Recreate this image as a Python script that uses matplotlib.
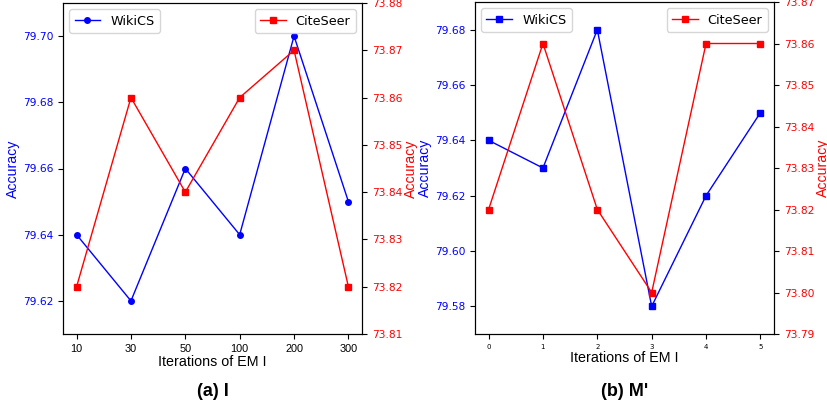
import matplotlib
matplotlib.use("Agg")
import matplotlib.pyplot as plt

# Data
labels_a = ["10", "30", "50", "100", "200", "300"]
wiki_a = [79.64, 79.62, 79.66, 79.64, 79.70, 79.65]
cite_a = [73.82, 73.86, 73.84, 73.86, 73.87, 73.82]

labels_b = ["0", "1", "2", "3", "4", "5"]
wiki_b = [79.64, 79.63, 79.68, 79.58, 79.62, 79.65]
cite_b = [73.82, 73.86, 73.82, 73.80, 73.86, 73.86]

W, H = 828, 408
fig = plt.figure(figsize=(W / 100, H / 100), dpi=100)
ARIAL = "Liberation Sans"

def px(x0, y0, x1, y1):
    return [x0 / W, 1 - y1 / H, (x1 - x0) / W, (y1 - y0) / H]

def panel(rect, labels, wiki, cite, wm, ylim1, yt1, ylim2, yt2, xfs, xfam, title, tx):
    ax = fig.add_axes(rect)
    x = list(range(len(labels)))
    l1, = ax.plot(x, wiki, color="blue", marker=wm, markersize=4, lw=1, label="WikiCS")
    ax.set_ylim(*ylim1)
    ax.set_yticks(yt1)
    ax.set_yticklabels([f"{v:.2f}" for v in yt1])
    ax.tick_params(axis="y", labelcolor="blue", labelsize=7.7)
    ax.set_xticks(x)
    ax.set_xticklabels(labels, family=xfam, fontsize=xfs)
    ax.set_ylabel("Accuracy", color="blue", fontsize=10.2, family=ARIAL, labelpad=2)
    ax.set_xlabel("Iterations of EM I", fontsize=10.3, family=ARIAL, labelpad=1)
    ax2 = ax.twinx()
    l2, = ax2.plot(x, cite, color="red", marker="s", markersize=4, lw=1, label="CiteSeer")
    ax2.set_ylim(*ylim2)
    ax2.set_yticks(yt2)
    ax2.set_yticklabels([f"{v:.2f}" for v in yt2])
    ax2.tick_params(axis="y", labelcolor="red", labelsize=7.7)
    ax2.set_ylabel("Accuracy", color="red", fontsize=10.2, family=ARIAL, labelpad=1)
    ax.legend(handles=[l1], loc="upper left", fontsize=9.2, handlelength=2.0)
    ax2.legend(handles=[l2], loc="upper right", fontsize=9.2, handlelength=2.0)
    fig.text(tx / W, 1 - 392 / H, title, ha="center", va="center",
             fontsize=13, fontweight="bold", family=ARIAL)

panel(px(63, 3, 362, 334), labels_a, wiki_a, cite_a, "o",
      (79.61, 79.71), [79.62, 79.64, 79.66, 79.68, 79.70],
      (73.81, 73.88), [73.81, 73.82, 73.83, 73.84, 73.85, 73.86, 73.87, 73.88],
      7.8, ARIAL, "(a) I", 213)
panel(px(475, 2, 774, 334), labels_b, wiki_b, cite_b, "s",
      (79.57, 79.69), [79.58, 79.60, 79.62, 79.64, 79.66, 79.68],
      (73.79, 73.87), [73.79, 73.80, 73.81, 73.82, 73.83, 73.84, 73.85, 73.86, 73.87],
      5, "DejaVu Sans", "(b) M'", 625)

fig.savefig("out.png", dpi=100)
